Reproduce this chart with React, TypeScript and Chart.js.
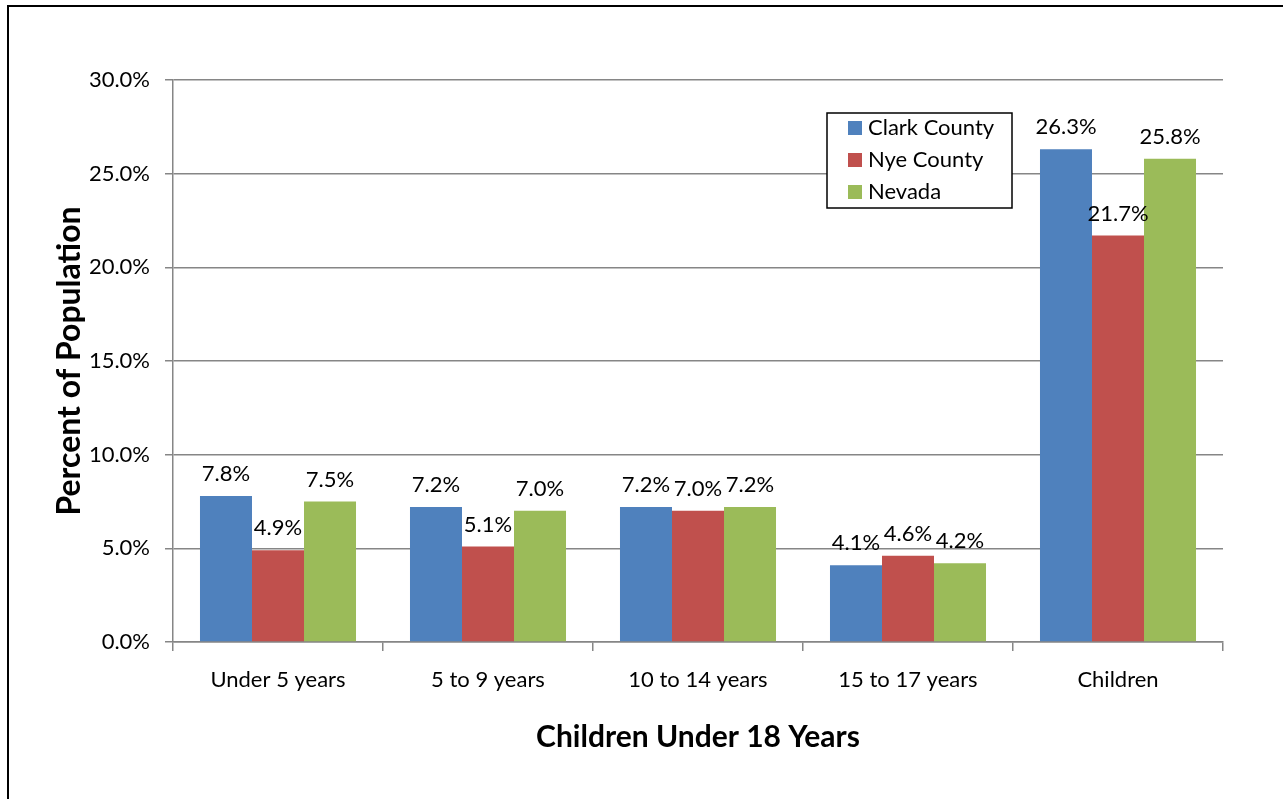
import { useEffect, useRef } from "react";
import { Chart, registerables } from "chart.js";

Chart.register(...registerables);

// Age groups shown along the x axis
const categories = ["Under 5 years", "5 to 9 years", "10 to 14 years", "15 to 17 years", "Children"];

// Share of population (percent) by area
const clarkCounty = [7.8, 7.2, 7.2, 4.1, 26.3];
const nyeCounty = [4.9, 5.1, 7.0, 4.6, 21.7];
const nevada = [7.5, 7.0, 7.2, 4.2, 25.8];

const seriesNames = ["Clark County", "Nye County", "Nevada"];
const seriesColors = ["#4F81BD", "#C0504D", "#9BBB59"];

// Value axis range
const yMin = 0;
const yMax = 30;
const yStep = 5;

const FONT = "Lato, 'Open Sans', sans-serif";
const GRID = "#868686";

// Writes each bar's value just above it
const valueLabels = {
  id: "valueLabels",
  afterDatasetsDraw(chart: any) {
    const ctx = chart.ctx;
    ctx.save();
    ctx.font = `22px ${FONT}`;
    ctx.fillStyle = "#000";
    ctx.textAlign = "center";
    ctx.textBaseline = "middle";
    chart.data.datasets.forEach((ds: any, i: number) => {
      const meta = chart.getDatasetMeta(i);
      meta.data.forEach((bar: any, j: number) => {
        const v = ds.data[j] as number;
        ctx.fillText(`${v.toFixed(1)}%`, bar.x, bar.y - 22);
      });
    });
    ctx.restore();
  },
};

// Boxed legend sitting inside the plot
const boxedLegend = {
  id: "boxedLegend",
  afterDraw(chart: any, _args: any, opts: any) {
    const ctx = chart.ctx;
    const { x, y, width, height, rowGap, firstRow, swatch, textX, swatchX } = opts;
    ctx.save();
    ctx.fillStyle = "#fff";
    ctx.fillRect(x, y, width, height);
    ctx.strokeStyle = "#000";
    ctx.lineWidth = 1.5;
    ctx.strokeRect(x, y, width, height);
    ctx.font = `22px ${FONT}`;
    ctx.textAlign = "left";
    ctx.textBaseline = "middle";
    chart.data.datasets.forEach((ds: any, i: number) => {
      const cy = y + firstRow + i * rowGap;
      ctx.fillStyle = ds.backgroundColor;
      ctx.fillRect(x + swatchX, cy - swatch / 2, swatch, swatch);
      ctx.fillStyle = "#000";
      ctx.fillText(ds.label, x + textX, cy);
    });
    ctx.restore();
  },
};

export default function App() {
  const canvasRef = useRef<HTMLCanvasElement | null>(null);

  useEffect(() => {
    if (!canvasRef.current) return;
    const series = [clarkCounty, nyeCounty, nevada];
    const chart = new Chart(canvasRef.current, {
      type: "bar",
      data: {
        labels: categories,
        datasets: series.map((values, i) => ({
          label: seriesNames[i],
          data: values,
          backgroundColor: seriesColors[i],
          borderWidth: 0,
          categoryPercentage: 0.743,
          barPercentage: 1,
        })),
      },
      options: {
        responsive: false,
        animation: false,
        devicePixelRatio: 1,
        layout: { padding: { top: 80, right: 60, bottom: 0, left: 0 } },
        plugins: {
          legend: { display: false },
          tooltip: { enabled: false },
          boxedLegend: {
            x: 827,
            y: 113,
            width: 185,
            height: 95,
            firstRow: 15,
            rowGap: 32,
            swatch: 14,
            swatchX: 21,
            textX: 41,
          },
        } as any,
        scales: {
          x: {
            afterFit: (scale: any) => {
              scale.height = 157;
            },
            grid: {
              drawOnChartArea: false,
              drawTicks: true,
              tickLength: 9,
              color: GRID,
              lineWidth: 1.5,
            },
            border: { color: GRID, width: 1.5 },
            ticks: {
              padding: 16,
              color: "#000",
              font: { family: FONT, size: 22 },
            },
            title: {
              display: true,
              text: "Children Under 18 Years",
              color: "#000",
              font: { family: FONT, size: 30, weight: "bold" },
              padding: { top: 0, bottom: 44 },
            },
          },
          y: {
            min: yMin,
            max: yMax,
            afterFit: (scale: any) => {
              scale.width = 173;
            },
            grid: {
              color: GRID,
              lineWidth: 1.5,
              tickLength: 8,
            },
            border: { color: GRID, width: 1.5 },
            ticks: {
              stepSize: yStep,
              padding: 15,
              color: "#000",
              font: { family: FONT, size: 22 },
              callback: (v: any) => `${Number(v).toFixed(1)}%`,
            },
            title: {
              display: true,
              text: "Percent of Population",
              color: "#000",
              font: { family: FONT, size: 32, weight: "bold" },
              padding: { top: 50, bottom: 0 },
            },
          },
        },
      },
      plugins: [valueLabels, boxedLegend],
    });
    return () => chart.destroy();
  }, []);

  return (
    <div style={{ position: "fixed", inset: 0, overflow: "hidden", background: "#fff" }}>
      <div
        style={{
          position: "absolute",
          left: 7,
          top: 5,
          width: 1420,
          height: 900,
          border: "2px solid #000",
          boxSizing: "border-box",
        }}
      />
      <canvas
        ref={canvasRef}
        width={1283}
        height={799}
        style={{ position: "absolute", left: 0, top: 0, width: 1283, height: 799 }}
      />
    </div>
  );
}
